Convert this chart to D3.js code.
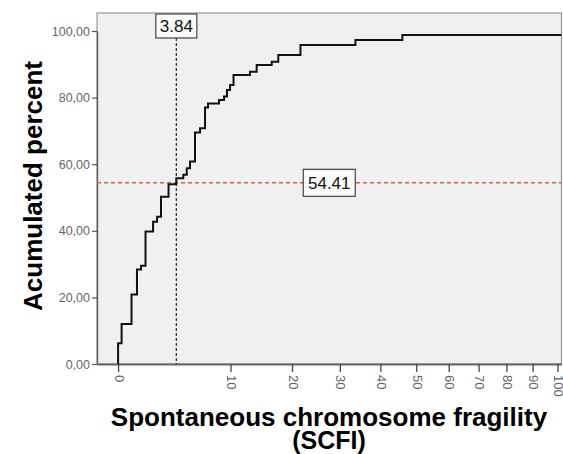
<!DOCTYPE html>
<html>
<head>
<meta charset="utf-8">
<script src="https://cdn.jsdelivr.net/npm/d3@7"></script>
<style>
  html, body { margin: 0; padding: 0; background: #ffffff; }
  svg { display: block; font-family: "Liberation Sans", Arial, sans-serif; }
</style>
</head>
<body>
<svg id="chart" width="563" height="454"></svg>
<script>
// ---- data ----
const scfiValues = [0, 0, 0.15, 0.63, 0.93, 1.17, 1.45, 1.96, 2.25, 2.55, 3.16, 3.84, 4.49, 4.83, 5.16, 5.68, 6.23, 6.79, 7.14, 8.48, 9.13, 9.52, 9.93, 10.41, 12.82, 13.86, 16.34, 17.49, 21.63, 33.68, 46.0];
const cumPercent = [0, 6.2, 12.0, 20.9, 28.4, 29.5, 39.8, 42.7, 44.2, 50.2, 54.0, 55.8, 56.8, 58.8, 60.8, 69.5, 70.8, 77.0, 78.2, 79.3, 80.3, 82.3, 83.8, 86.8, 87.8, 89.8, 90.8, 92.8, 95.8, 97.3, 98.8];
const xTickValues = [0, 10, 20, 30, 40, 50, 60, 70, 80, 90, 100];
const yTickValues = [0, 20, 40, 60, 80, 100];
const xDomain = [-0.68, 101.7];
const refX = 3.84;
const refY = 54.41;
const yTitle = "Acumulated percent";
const xTitleLines = ["Spontaneous chromosome fragility", "(SCFI)"];

// ---- layout ----
const svg = d3.select("#chart");
const L = 97, R = 561.5, T = 13, B = 364;

// x axis is a square-root scale of (value + 1)
const xs = d3.scaleSqrt().domain([xDomain[0] + 1, xDomain[1] + 1]).range([L, R]);
const xPos = v => xs(v + 1);
const y = d3.scaleLinear().domain([0, 100]).range([B, B - 333]);

// plot background
svg.append("rect").attr("x", L).attr("y", T).attr("width", R - L).attr("height", B - T)
  .attr("fill", "#f0f0f0").attr("stroke", "#9a9a9a").attr("stroke-width", 1.2);

// y axis
const yAxis = svg.append("g").attr("transform", `translate(${L},0)`)
  .call(d3.axisLeft(y).tickValues(yTickValues).tickSize(5).tickSizeOuter(0)
    .tickFormat(d => d3.format(".2f")(d).replace(".", ",")));
yAxis.select(".domain").attr("stroke", "#666").attr("stroke-width", 1.5);
yAxis.selectAll(".tick line").attr("stroke", "#555").attr("stroke-width", 1.2);
yAxis.selectAll(".tick text").attr("fill", "#666").attr("font-size", 12.5)
  .attr("font-family", "Liberation Sans, Arial, sans-serif").attr("x", -7);

// x axis
const xAxis = svg.append("g").attr("transform", `translate(0,${B})`)
  .call(d3.axisBottom(xs).tickValues(xTickValues.map(t => t + 1)).tickSize(8).tickSizeOuter(0)
    .tickFormat(d => String(Math.round(d - 1))));
xAxis.select(".domain").attr("stroke", "#666").attr("stroke-width", 2);
xAxis.selectAll(".tick line").attr("stroke", "#444").attr("stroke-width", 1.3);
xAxis.selectAll(".tick text").attr("fill", "#666").attr("font-size", 13)
  .attr("font-family", "Liberation Sans, Arial, sans-serif")
  .attr("transform", "rotate(90)").attr("x", 11).attr("y", 0).attr("dy", "0.3em")
  .attr("text-anchor", "start");

// reference lines
svg.append("line").attr("x1", L).attr("x2", R).attr("y1", y(refY)).attr("y2", y(refY))
  .attr("stroke", "#d65e5a").attr("stroke-width", 1.5).attr("stroke-dasharray", "4,3");
svg.append("line").attr("x1", xPos(refX)).attr("x2", xPos(refX)).attr("y1", 38).attr("y2", B)
  .attr("stroke", "#333").attr("stroke-width", 1.3).attr("stroke-dasharray", "3,2");

// step curve
const pts = scfiValues.map((v, i) => [v, cumPercent[i]]);
pts.push([xDomain[1], cumPercent[cumPercent.length - 1]]);
const line = d3.line().x(d => xPos(d[0])).y(d => y(d[1])).curve(d3.curveStepAfter);
svg.append("path").datum(pts).attr("d", line).attr("fill", "none")
  .attr("stroke", "#111").attr("stroke-width", 2);

// labels with boxes
function boxLabel(cx, cy, w, h, txt) {
  svg.append("rect").attr("x", cx - w / 2).attr("y", cy - h / 2).attr("width", w).attr("height", h)
    .attr("fill", "#fafafa").attr("stroke", "#444").attr("stroke-width", 1.2);
  svg.append("text").attr("x", cx).attr("y", cy).attr("dy", "0.36em").attr("text-anchor", "middle")
    .attr("font-size", 17).attr("fill", "#111").text(txt);
}
boxLabel(xPos(refX), 26, 41, 24, d3.format(".2f")(refX));
boxLabel((L + R) / 2, y(refY), 52, 27, d3.format(".2f")(refY));

// titles
svg.append("text").attr("transform", "translate(42,186) rotate(-90)").attr("text-anchor", "middle")
  .attr("font-size", 26).attr("font-weight", "bold").attr("fill", "#000").text(yTitle);
svg.append("text").attr("x", 329).attr("y", 426).attr("text-anchor", "middle")
  .attr("font-size", 26).attr("font-weight", "bold").attr("fill", "#000").text(xTitleLines[0]);
svg.append("text").attr("x", 329).attr("y", 449).attr("text-anchor", "middle")
  .attr("font-size", 25).attr("font-weight", "bold").attr("fill", "#000").text(xTitleLines[1]);
</script>
</body>
</html>
